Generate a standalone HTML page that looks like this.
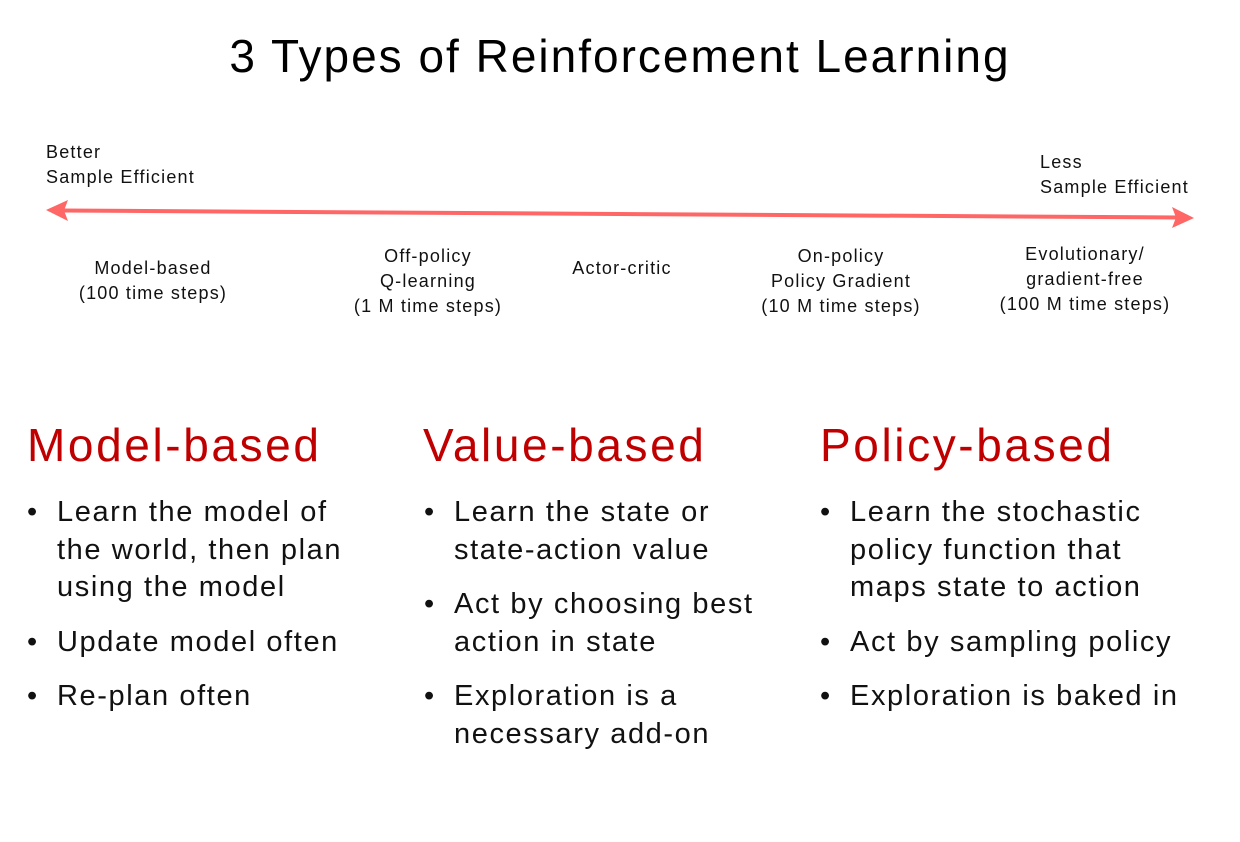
<!DOCTYPE html>
<html><head><style>
body{margin:0;width:1240px;height:842px;background:#fff;position:relative;font-family:"Liberation Sans",sans-serif;overflow:hidden}
.a{position:absolute;white-space:nowrap}
.s{font-size:18px;color:#111;text-align:center;line-height:25px;letter-spacing:1.2px}
.h{font-size:46px;color:#c00000;line-height:50px;letter-spacing:2.6px}
ul{position:absolute;margin:0;padding:0;list-style:none;font-size:29px;line-height:37.5px;color:#111;letter-spacing:1.6px}
li{position:relative;padding-left:30px;margin-bottom:17px}
li:before{content:"•";position:absolute;left:0;}
</style></head><body>
<div class="a" style="left:0;width:1240px;text-align:center;top:28px;font-size:46px;line-height:56px;letter-spacing:2px">3 Types of Reinforcement Learning</div>
<div class="a s" style="left:46px;top:140px;text-align:left">Better<br>Sample Efficient</div>
<div class="a s" style="left:1040px;top:150px;text-align:left">Less<br>Sample Efficient</div>
<svg class="a" style="left:0;top:0" width="1240" height="842"><line x1="62" y1="210.5" x2="1178" y2="217.5" stroke="#ff6666" stroke-width="4"/><polygon points="46,210 68,200 64,210.5 68,221" fill="#ff6666"/><polygon points="1194,218 1172,207 1176,217.5 1172,228" fill="#ff6666"/></svg>
<div class="a s" style="left:53px;width:200px;top:256px">Model-based<br>(100 time steps)</div>
<div class="a s" style="left:328px;width:200px;top:244px">Off-policy<br>Q-learning<br>(1 M time steps)</div>
<div class="a s" style="left:522px;width:200px;top:256px">Actor-critic</div>
<div class="a s" style="left:741px;width:200px;top:244px">On-policy<br>Policy Gradient<br>(10 M time steps)</div>
<div class="a s" style="left:985px;width:200px;top:242px">Evolutionary/<br>gradient-free<br>(100 M time steps)</div>
<div class="a h" style="left:27px;top:420px">Model-based</div>
<div class="a h" style="left:423px;top:420px">Value-based</div>
<div class="a h" style="left:820px;top:420px">Policy-based</div>
<ul style="left:27px;top:494px"><li>Learn the model of<br>the world, then plan<br>using the model</li><li>Update model often</li><li>Re-plan often</li></ul>
<ul style="left:424px;top:494px"><li>Learn the state or<br>state-action value</li><li>Act by choosing best<br>action in state</li><li>Exploration is a<br>necessary add-on</li></ul>
<ul style="left:820px;top:494px"><li>Learn the stochastic<br>policy function that<br>maps state to action</li><li>Act by sampling policy</li><li>Exploration is baked in</li></ul>
</body></html>
